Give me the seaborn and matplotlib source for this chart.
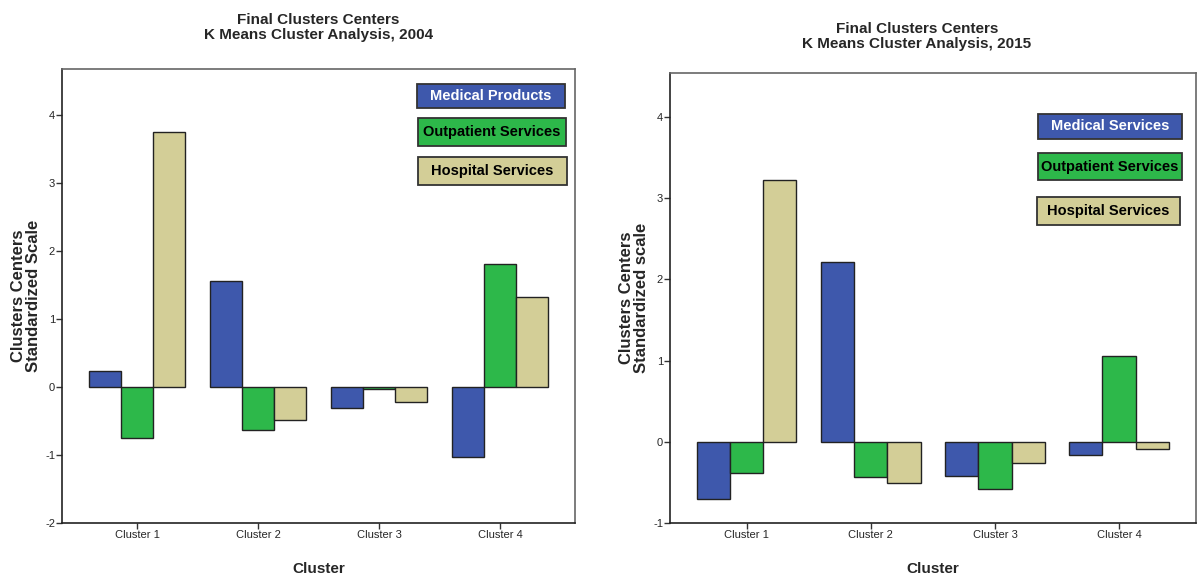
import pandas as pd
import seaborn as sns
import matplotlib
matplotlib.use('Agg')
import matplotlib.pyplot as plt
from matplotlib.patches import Rectangle

# values
clusters = ['Cluster 1', 'Cluster 2', 'Cluster 3', 'Cluster 4']

series_2004 = ['Medical Products', 'Outpatient Services', 'Hospital Services']
medical_2004 = [0.23, 1.56, -0.32, -1.04]
outpatient_2004 = [-0.76, -0.63, -0.04, 1.80]
hospital_2004 = [3.74, -0.49, -0.23, 1.32]

series_2015 = ['Medical Services', 'Outpatient Services', 'Hospital Services']
medical_2015 = [-0.71, 2.21, -0.42, -0.17]
outpatient_2015 = [-0.39, -0.43, -0.58, 1.05]
hospital_2015 = [3.23, -0.51, -0.26, -0.09]

colors = ['#3e58ac', '#2db84a', '#d3ce97']
text_colors = ['white', 'black', 'black']

sns.set_style('white')
plt.rcParams['font.family'] = ['Liberation Sans', 'DejaVu Sans']


def long_table(names, cols):
    rows = []
    for name, vals in zip(names, cols):
        for c, v in zip(clusters, vals):
            rows.append({'Cluster': c, 'Series': name, 'Value': v})
    return pd.DataFrame(rows)


df_2004 = long_table(series_2004, [medical_2004, outpatient_2004, hospital_2004])
df_2015 = long_table(series_2015, [medical_2015, outpatient_2015, hospital_2015])

fig = plt.figure(figsize=(11.97, 5.76), dpi=100)
ax1 = fig.add_axes([0.0518, 0.0925, 0.4286, 0.7877])
ax2 = fig.add_axes([0.5597, 0.0925, 0.4394, 0.7813])


def draw(ax, df, names, ylim, yticks, ylabel, boxes):
    sns.barplot(data=df, x='Cluster', y='Value', hue='Series', hue_order=names,
                palette=colors, edgecolor='#222222', linewidth=1.0, width=0.8,
                saturation=1, legend=False, ax=ax)
    ax.set_xlim(-0.62, 3.62)
    ax.set_ylim(*ylim)
    ax.set_yticks(yticks)
    ax.set_yticklabels([str(t) for t in yticks])
    ax.tick_params(axis='both', direction='out', length=4, width=1, color='#333333',
                   labelsize=8, pad=1, left=True, bottom=True)
    for s in ax.spines.values():
        s.set_color('#666666')
        s.set_linewidth(1.2)
    ax.spines['left'].set_color('#222222')
    ax.spines['bottom'].set_color('#222222')
    ax.set_xlabel('Cluster', fontsize=11, fontweight='bold', labelpad=16)
    ax.set_ylabel(ylabel, fontsize=12, fontweight='bold', labelpad=3, linespacing=1.0)
    # SPSS-style legend: coloured boxes with the text inside (figure pixels)
    for name, col, tc, (x0, y0, x1, y1) in zip(names, colors, text_colors, boxes):
        fx0, fx1 = x0 / 1197, x1 / 1197
        fy0, fy1 = 1 - y1 / 576, 1 - y0 / 576
        fig.patches.append(Rectangle((fx0, fy0), fx1 - fx0, fy1 - fy0, transform=fig.transFigure,
                                     facecolor=col, edgecolor='#333333', linewidth=1.3))
        fig.text((fx0 + fx1) / 2, (fy0 + fy1) / 2, name, ha='center', va='center',
                 fontsize=10.5, fontweight='bold', color=tc)


draw(ax1, df_2004, series_2004, (-2, 4.67), [-2, -1, 0, 1, 2, 3, 4],
     'Clusters Centers\nStandardized Scale',
     [(417, 84, 565, 108), (418, 118, 566, 146), (418, 157, 567, 185)])
draw(ax2, df_2015, series_2015, (-1, 4.55), [-1, 0, 1, 2, 3, 4],
     'Clusters Centers\nStandardized scale',
     [(1038, 114, 1182, 139), (1038, 153, 1182, 180), (1037, 197, 1180, 225)])

fig.text(0.266, 0.952, 'Final Clusters Centers\nK Means Cluster Analysis, 2004',
         ha='center', va='center', fontsize=11, fontweight='bold', linespacing=1.05)
fig.text(0.766, 0.937, 'Final Clusters Centers\nK Means Cluster Analysis, 2015',
         ha='center', va='center', fontsize=11, fontweight='bold', linespacing=1.05)

plt.savefig('out.png', dpi=100)
